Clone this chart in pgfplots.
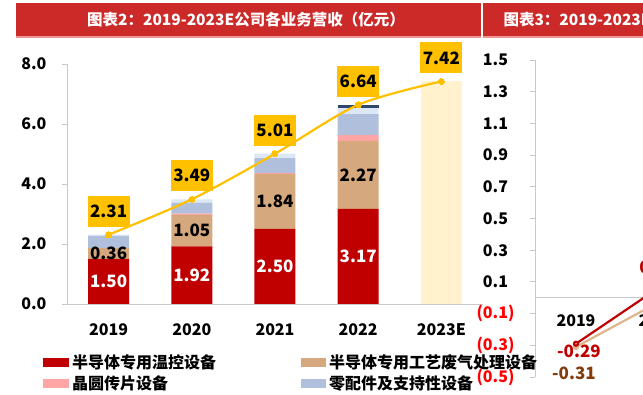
\documentclass[border=0pt]{standalone}
\usepackage{fontspec}
\setmainfont{Noto Sans CJK SC}
\usepackage{pgfplots}
\usepackage{pgfplotstable}
\pgfplotsset{compat=1.18}
\definecolor{hdr}{RGB}{204,41,41}
\definecolor{hdrline}{RGB}{236,150,150}
\definecolor{cred}{RGB}{192,0,0}
\definecolor{ctan}{RGB}{213,168,126}
\definecolor{ctanline}{RGB}{222,180,140}
\definecolor{cpink}{RGB}{255,165,165}
\definecolor{cblue}{RGB}{176,192,220}
\definecolor{clight}{RGB}{220,232,245}
\definecolor{cnavy}{RGB}{47,72,110}
\definecolor{cyel}{RGB}{255,192,0}
\definecolor{cpale}{RGB}{255,242,204}
\definecolor{cbrown}{RGB}{132,60,12}
\definecolor{axgray}{RGB}{200,200,200}
\definecolor{tred}{RGB}{255,0,0}

\pgfplotstableread{
x red tan pink blue light navy pale
0 1.50 0.36 0.00 0.41 0.04 0.00 0
1 1.92 1.05 0.04 0.37 0.11 0.00 0
2 2.50 1.84 0.02 0.50 0.15 0.00 0
3 3.17 2.27 0.19 0.70 0.20 0.11 0
4 0 0 0 0 0 0 7.42
}\bars

\newcommand{\tickfont}{\bfseries\fontsize{16}{16}\selectfont}
\newcommand{\labfont}{\bfseries\fontsize{17}{17}\selectfont}

\begin{document}
\begin{tikzpicture}[x=1pt,y=1pt]
\path[use as bounding box] (0,0) rectangle (643,395);
\clip (0,0) rectangle (643,395);
% headers
\fill[hdr] (16,358) rectangle (481,392);
\fill[hdr] (483,358) rectangle (660,392);
\fill[hdrline] (16,357) rectangle (481,358.5);
\fill[hdrline] (483,357) rectangle (660,358.5);
\node[white, font=\bfseries\fontsize{15.5}{16}\selectfont] at (246,375) {图表2：2019-2023E公司各业务营收（亿元）};
\node[white, anchor=west, font=\bfseries\fontsize{15.5}{16}\selectfont] at (500,375) {图表3：2019-2023E公司各业务净利润（亿元）};

% left chart bars
\begin{axis}[at={(67pt,91pt)}, anchor=south west, scale only axis,
  width=416pt, height=240pt,
  ybar stacked, bar width=41pt,
  xmin=-0.5, xmax=4.5, ymin=0, ymax=8,
  xtick={0,1,2,3,4}, xticklabels={2019,2020,2021,2022,2023E},
  ytick={0,2,4,6,8},
  yticklabel={\pgfmathprintnumber[fixed,fixed zerofill,precision=1]{\tick}},
  /pgf/number format/assume math mode=true,
  axis x line*=bottom, axis y line*=left,
  axis line style={axgray, line width=0.8pt},
  x tick style={draw=none},
  y tick style={axgray, line width=0.8pt},
  tick align=outside, major tick length=5pt,
  tick label style={font=\tickfont, text=black},
  xticklabel style={yshift=-11pt},
  yticklabel style={xshift=-12pt},
  clip=false]
\addplot[fill=cred, draw=none] table[x=x, y=red] {\bars};
\addplot[fill=ctan, draw=none] table[x=x, y=tan] {\bars};
\addplot[fill=cpink, draw=none] table[x=x, y=pink] {\bars};
\addplot[fill=cblue, draw=none] table[x=x, y=blue] {\bars};
\addplot[fill=clight, draw=none] table[x=x, y=light] {\bars};
\addplot[fill=cnavy, draw=none] table[x=x, y=navy] {\bars};
\addplot[fill=cpale, draw=none] table[x=x, y=pale] {\bars};
\end{axis}

% left chart line and labels
\begin{axis}[at={(67pt,91pt)}, anchor=south west, scale only axis,
  width=416pt, height=240pt, hide axis,
  xmin=-0.5, xmax=4.5, ymin=0, ymax=8, clip=false]
\addplot[cyel, line width=2.2pt, smooth, mark=*, mark size=3pt,
  mark options={solid, fill=cyel, draw=cyel, line width=0pt},
  nodes near coords, point meta=explicit symbolic,
  nodes near coords style={fill=cyel, text=black, font=\labfont,
    minimum width=42pt, minimum height=31pt, inner sep=0pt,
    anchor=center, yshift=23.5pt}]
  coordinates {(0,2.31)[2.31] (1,3.49)[3.49] (2,5.01)[5.01] (3,6.64)[6.64] (4,7.42)[7.42]};
\addplot[draw=none, mark=none, nodes near coords, point meta=explicit symbolic,
  nodes near coords style={text=white, font=\labfont, anchor=center}]
  coordinates {(0,0.75)[1.50] (1,0.96)[1.92] (2,1.25)[2.50] (3,1.585)[3.17]};
\addplot[draw=none, mark=none, nodes near coords, point meta=explicit symbolic,
  nodes near coords style={text=black, font=\labfont, anchor=center}]
  coordinates {(0,1.68)[0.36] (1,2.445)[1.05] (2,3.42)[1.84] (3,4.305)[2.27]};
\end{axis}

% right chart
\begin{axis}[at={(535pt,18pt)}, anchor=south west, scale only axis,
  width=164pt, height=317pt,
  xmin=-0.5, xmax=1.5, ymin=-0.5, ymax=1.5,
  axis x line*=middle, axis y line*=left,
  axis line style={axgray, line width=0.8pt},
  xtick={0,1}, xticklabels={2019,2020},
  x tick style={draw=none},
  extra x ticks={-0.5,0.5,1.5}, extra x tick labels={},
  extra x tick style={tick style={draw=axgray, line width=0.8pt}},
  ytick={-0.5,-0.3,-0.1,0.1,0.3,0.5,0.7,0.9,1.1,1.3,1.5},
  yticklabels={\textcolor{tred}{(0.5)},\textcolor{tred}{(0.3)},\textcolor{tred}{(0.1)},
    0.1\hphantom{)},0.3\hphantom{)},0.5\hphantom{)},0.7\hphantom{)},0.9\hphantom{)},
    1.1\hphantom{)},1.3\hphantom{)},1.5\hphantom{)}},
  y tick style={axgray, line width=0.8pt},
  tick align=outside, major tick length=5pt,
  tick label style={font=\tickfont, text=black},
  xticklabel style={yshift=-8pt},
  yticklabel style={xshift=-12pt},
  clip=false]
\addplot[ctanline, line width=2.2pt, mark=*, mark size=2pt,
  mark options={fill=ctanline}] coordinates {(0,-0.31) (1,-0.03)};
\addplot[cred, line width=2.2pt, mark=*, mark size=2pt,
  mark options={fill=white}] coordinates {(0,-0.29) (1,0.06)};
\addplot[draw=none, mark=none, nodes near coords, point meta=explicit symbolic,
  nodes near coords style={text=cred, font=\labfont, anchor=center, yshift=-8pt, xshift=3pt}]
  coordinates {(0,-0.29)[-0.29]};
\addplot[draw=none, mark=none, nodes near coords, point meta=explicit symbolic,
  nodes near coords style={text=cred, font=\labfont, anchor=center, yshift=21pt}]
  coordinates {(1,0.06)[0.06]};
\addplot[draw=none, mark=none, nodes near coords, point meta=explicit symbolic,
  nodes near coords style={text=cbrown, font=\labfont, anchor=center, yshift=-26pt, xshift=-2pt}]
  coordinates {(0,-0.31)[-0.31]};
\end{axis}

% legend
\newcommand{\legfont}{\bfseries\fontsize{16}{16}\selectfont}
\fill[cred] (43,28) rectangle (69,37);
\node[anchor=west, inner sep=0pt, font=\legfont] at (72,32.5) {半导体专用温控设备};
\fill[ctan] (301,28) rectangle (326,37);
\node[anchor=west, inner sep=0pt, font=\legfont] at (329,32.5) {半导体专用工艺废气处理设备};
\fill[cpink] (43,7) rectangle (69,16);
\node[anchor=west, inner sep=0pt, font=\legfont] at (72,11.5) {晶圆传片设备};
\fill[cblue] (301,7) rectangle (326,16);
\node[anchor=west, inner sep=0pt, font=\legfont] at (329,11.5) {零配件及支持性设备};
\end{tikzpicture}
\end{document}
